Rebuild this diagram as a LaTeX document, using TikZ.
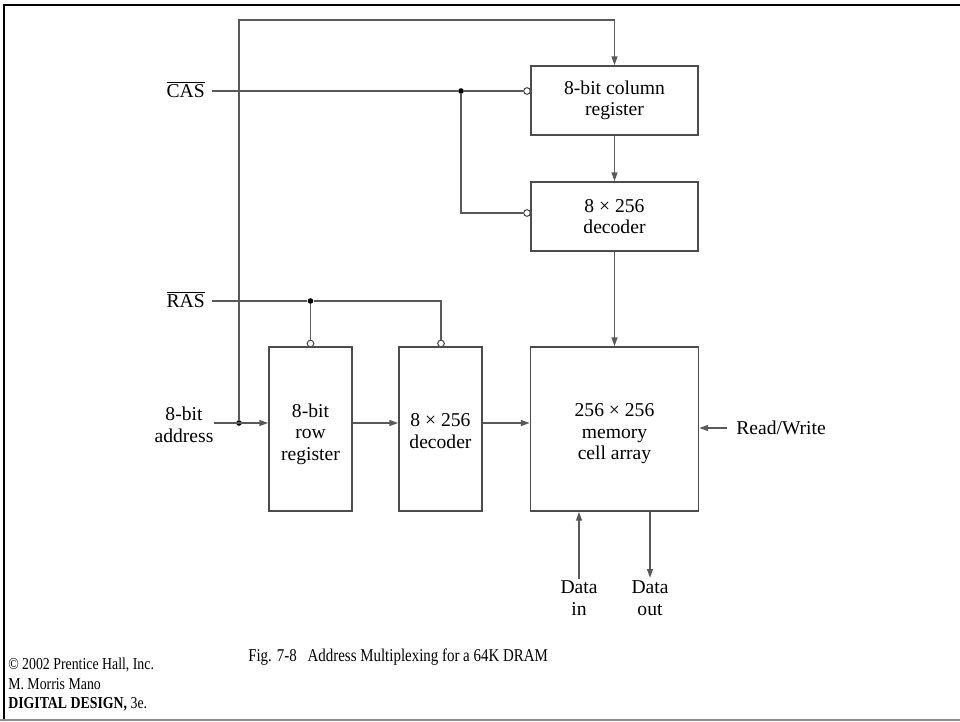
\documentclass[tikz,border=0pt]{standalone}
\usepackage{fontspec}
\setmainfont{Liberation Serif}
\newfontfamily\capfont[FakeStretch=0.83]{Liberation Serif}
\usetikzlibrary{arrows.meta}
\begin{document}
\begin{tikzpicture}[x=0.75pt,y=-0.75pt,
  wire/.style={draw=black!65, line width=1pt},
  arr/.style={wire,-{Triangle[length=6.5pt,width=4.4pt]}},
  blk/.style={draw=black!70, line width=1.3pt, inner sep=0pt, align=center,
    font=\fontsize{14.7}{16.1}\selectfont},
  blktext/.style={inner sep=0pt, align=center, font=\fontsize{14.7}{16.1}\selectfont},
  lbl/.style={inner sep=0pt, align=center, font=\fontsize{14.7}{16.1}\selectfont},
  bubble/.style={circle, draw=black!70, fill=white, line width=0.8pt, inner sep=0pt, minimum size=5pt},
  jdot/.style={circle, fill=black, inner sep=0pt, minimum size=4.2pt},
  capt/.style={inner sep=0pt, anchor=base west, font=\capfont\fontsize{13.5}{15}\selectfont},
  cred/.style={inner sep=0pt, anchor=base west, font=\capfont\fontsize{12.5}{14}\selectfont},
]
\useasboundingbox (0,0) rectangle (960,721);
\fill[white] (0,0) rectangle (960,721);
% frame
\draw[black, line width=2.2pt] (4,721) -- (4,5) -- (960,5);
\draw[black!45, line width=1pt] (0,720) -- (960,720);

% blocks
\node[blk, minimum width=125.6pt, minimum height=51.75pt] (colreg) at (614.5,100.5) {8-bit column\\register};
\node[blk, minimum width=125.6pt, minimum height=51.75pt] (coldec) at (614.5,216.5) {8 × 256\\decoder};
\node[blk, minimum width=126pt, minimum height=123pt] (mem) at (614.5,429) {};
\node[blk, minimum width=62.25pt, minimum height=123pt] (rowreg) at (310.5,429) {};
\node[blk, minimum width=62.25pt, minimum height=123pt] (rowdec) at (440.5,429) {};
\node[blktext] (memt) at (614.5,434) {256 × 256\\memory\\cell array};
\node[blktext] (rowregt) at (310.5,434) {8-bit\\row\\register};
\node[blktext] (rowdect) at (440.5,431) {8 × 256\\decoder};

% labels
\node[lbl, anchor=base east] (cas) at (205,97) {$\overline{\hbox{CAS}}$};
\node[lbl, anchor=base east] (ras) at (205,307) {$\overline{\hbox{RAS}}$};
\node[lbl] (addr) at (184,425) {8-bit\\address};
\node[lbl, anchor=west] (rw) at (736,428) {Read/Write};
\node[lbl] (din) at (579,598) {Data\\in};
\node[lbl] (dout) at (650,598) {Data\\out};

% junctions and bubbles
\node[jdot] (casj) at (461,91) {};
\node[bubble] (cb1) at (527,91) {};
\node[bubble] (cb2) at (527,213) {};
\node[jdot] (rasj) at (310.5,301) {};
\node[bubble] (rb1) at (310.5,343.5) {};
\node[bubble] (rb2) at (441,343.5) {};
\node[jdot] (aj) at (239,423) {};
\coordinate (tl) at (239,20);

% CAS
\draw[wire] (cas.east |- cb1) ++(5pt,0) -- (casj) -- (cb1.west);
\draw[wire] (casj) |- (cb2.west);
% RAS
\draw[wire] (ras.east |- rasj) ++(5pt,0) -- (rasj) -- (rasj -| rb2) -- (rb2.north);
\draw[wire] (rasj) -- (rb1.north);
% address
\draw[arr] (addr.east |- aj) -- (aj -| rowreg.west);
\draw[arr] (aj) -- (tl) -| (colreg.north);
\draw[arr] (rowreg.east |- aj) -- (aj -| rowdec.west);
\draw[arr] (rowdec.east |- aj) -- (aj -| mem.west);
\draw[arr] (colreg.south) -- (coldec.north);
\draw[arr] (coldec.south) -- (mem.north);
\draw[arr] ([xshift=-6.5pt]rw.west) -- (rw.west -| mem.east);
\draw[arr] ([yshift=1.5pt]din.north) -- (din.north |- mem.south);
\draw[arr] (dout.north |- mem.south) -- ([yshift=2pt]dout.north);

% caption and credits
\node[capt] (cap) at (248,661) {Fig. 7-8\hspace{0.6em}Address Multiplexing for a 64K DRAM};
\node[cred] (c1) at (8,669) {© 2002 Prentice Hall, Inc.};
\node[cred] (c2) at (8,689) {M. Morris Mano};
\node[cred] (c3) at (8,708) {\textbf{DIGITAL DESIGN,} 3e.};
\end{tikzpicture}
\end{document}
